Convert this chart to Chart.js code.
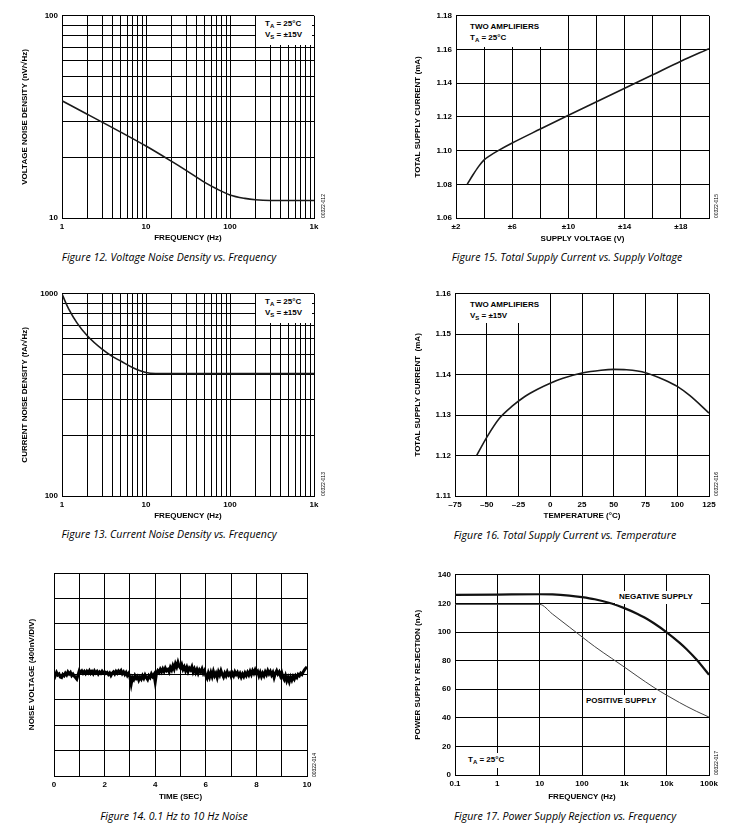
<!DOCTYPE html>
<html lang="en">
<head>
<meta charset="UTF-8" />
<title>Typical performance characteristics</title>
<style>
  * { margin: 0; padding: 0; }
  body {
    width: 741px; height: 828px; background: #fff; position: relative; overflow: hidden;
    font-family: "Liberation Sans", Arial, sans-serif; color: #000;
  }
  .wrap { position: absolute; }
  .note {
    position: absolute; background: #fff; font-weight: bold; font-size: 8px;
    line-height: 11px; white-space: nowrap; z-index: 2;
  }
  .note sub { font-size: 6px; vertical-align: -2px; line-height: 0; }
  .cap {
    position: absolute; font-family: "Open Sans", sans-serif; font-style: italic;
    font-size: 10.6px; white-space: nowrap; transform: translate(-50%, -50%);
  }
  .code {
    position: absolute; font-size: 5px; line-height: 6px; white-space: nowrap;
    transform: rotate(-90deg); transform-origin: left top;
  }
</style>
</head>
<body>
  <div class="wrap" id="w12"><canvas id="c12"></canvas></div>
  <div class="wrap" id="w15"><canvas id="c15"></canvas></div>
  <div class="wrap" id="w13"><canvas id="c13"></canvas></div>
  <div class="wrap" id="w16"><canvas id="c16"></canvas></div>
  <div class="wrap" id="w14"><canvas id="c14"></canvas></div>
  <div class="wrap" id="w17"><canvas id="c17"></canvas></div>

  <div class="note" style="left:256px;top:16px;width:47px;height:27px;padding:2px 0 0 9px;">T<sub>A</sub> = 25°C<br>V<sub>S</sub> = ±15V</div>
  <div class="note" style="left:256px;top:294px;width:47px;height:27px;padding:2px 0 0 9px;">T<sub>A</sub> = 25°C<br>V<sub>S</sub> = ±15V</div>
  <div class="note" style="left:457px;top:16px;width:75px;height:26px;padding:5px 0 0 13px;">TWO AMPLIFIERS<br>T<sub>A</sub> = 25°C</div>
  <div class="note" style="left:456px;top:294px;width:75px;height:24px;padding:5px 0 0 14px;">TWO AMPLIFIERS<br>V<sub>S</sub> = ±15V</div>
  <div class="note" style="left:463px;top:753px;width:43px;height:14px;padding:1px 0 0 5px;">T<sub>A</sub> = 25°C</div>
  <div class="note" style="left:615px;top:591px;width:82px;height:13px;padding:0 0 0 4px;">NEGATIVE SUPPLY</div>
  <div class="note" style="left:583px;top:695px;width:78px;height:13px;padding:0 0 0 3px;">POSITIVE SUPPLY</div>

  <div class="code" style="left:320px;top:218px;">00322-012</div>
  <div class="code" style="left:713px;top:218px;">00322-015</div>
  <div class="code" style="left:320px;top:496px;">00322-013</div>
  <div class="code" style="left:713px;top:496px;">00322-016</div>
  <div class="code" style="left:311px;top:777px;">00322-014</div>
  <div class="code" style="left:713px;top:775px;">00322-017</div>

  <div class="cap" style="left:169px;top:257px;">Figure 12. Voltage Noise Density vs. Frequency</div>
  <div class="cap" style="left:567px;top:257px;">Figure 15. Total Supply Current vs. Supply Voltage</div>
  <div class="cap" style="left:169px;top:534px;">Figure 13. Current Noise Density vs. Frequency</div>
  <div class="cap" style="left:565px;top:535px;">Figure 16. Total Supply Current vs. Temperature</div>
  <div class="cap" style="left:174px;top:816px;">Figure 14. 0.1 Hz to 10 Hz Noise</div>
  <div class="cap" style="left:565px;top:816px;">Figure 17. Power Supply Rejection vs. Frequency</div>

  <script src="https://cdn.jsdelivr.net/npm/chart.js@4.4.1/dist/chart.umd.min.js"></script>
  <script>
    // ---- data ----
    // Figure 12: voltage noise density (nV/rtHz) vs frequency (Hz)
    const fig12Freq = [1, 2, 3, 5, 10, 20, 30, 50, 70, 100, 150, 200, 300, 1000];
    const fig12Noise = [38, 32.6, 29.8, 26.6, 22.7, 19.1, 17.2, 15.0, 13.9, 13.0, 12.5, 12.3, 12.2, 12.2];
    const fig12XTicks = [1, 10, 100, 1000];
    const fig12XLabels = ["1", "10", "100", "1k"];
    const fig12YTicks = [10, 100];

    // Figure 13: current noise density (fA/rtHz) vs frequency (Hz)
    const fig13Freq = [1, 1.1, 1.2, 1.5, 2, 3, 4, 5, 7, 10, 13, 20, 100, 1000];
    const fig13Noise = [1000, 909, 842, 720, 620, 532, 489, 465, 431, 408, 403.5, 403, 403, 403];
    const fig13YTicks = [100, 1000];

    // Figure 15: supply current (mA) vs supply voltage (±V)
    const fig15Volts = [2.8, 3.2, 3.6, 4, 4.5, 5, 6, 8, 10, 12, 14, 16, 18, 20];
    const fig15Current = [1.080, 1.0855, 1.0905, 1.0945, 1.0975, 1.100, 1.1045, 1.1128, 1.121, 1.129, 1.137, 1.145, 1.153, 1.1605];
    const fig15XTicks = [2, 6, 10, 14, 18];

    // Figure 16: supply current (mA) vs temperature (°C)
    const fig16Temp = [-58, -50, -40, -30, -20, -10, 0, 10, 25, 40, 50, 60, 75, 90, 100, 110, 125];
    const fig16Current = [1.1200, 1.1245, 1.1292, 1.1322, 1.1346, 1.1364, 1.1379, 1.1391, 1.1404, 1.1411, 1.1413, 1.1412, 1.1405, 1.1387, 1.1371, 1.1348, 1.1305];

    // Figure 14: 0.1 Hz to 10 Hz noise, in divisions (400 nV/div), one sample every 0.05 s
    const fig14Step = 0.05;
    const fig14Noise = [
      0.10, -0.05, 0.08, -0.02, 0.02, -0.10, -0.12, 0.00, -0.05, 0.05, -0.02, 0.10, 0.02, 0.08, -0.04, 0.02, -0.06, -0.12, -0.18, -0.02,
      0.15, 0.08, 0.14, 0.05, 0.12, 0.04, 0.13, 0.06, 0.15, 0.05, 0.12, 0.03, 0.14, 0.06, 0.12, 0.02, 0.10, 0.05, 0.13, 0.06,
      0.10, 0.04, 0.08, 0.00, 0.06, -0.04, 0.05, 0.10, 0.02, 0.12, 0.05, 0.14, 0.08, 0.15, 0.03, 0.10, 0.00, 0.08, -0.04, 0.04,
      -0.10, -0.38, -0.12, -0.20, -0.05, -0.15, -0.08, -0.22, -0.10, -0.18, -0.05, -0.15, -0.02, -0.12, -0.20, -0.05, -0.12, 0.02, -0.08, 0.00,
      -0.30, 0.05, 0.15, 0.08, 0.20, 0.10, 0.22, 0.12, 0.25, 0.15, 0.20, 0.10, 0.28, 0.18, 0.35, 0.22, 0.42, 0.30, 0.48, 0.32,
      0.25, 0.38, 0.20, 0.30, 0.15, 0.28, 0.12, 0.25, 0.18, 0.30, 0.10, 0.22, 0.08, 0.20, 0.05, 0.18, 0.10, 0.22, 0.05, 0.15,
      -0.05, -0.15, 0.05, -0.10, 0.08, -0.08, 0.12, -0.05, 0.05, -0.12, 0.10, -0.02, 0.15, 0.00, -0.10, 0.05, -0.05, 0.10, -0.02, 0.05,
      -0.08, 0.05, -0.05, 0.10, 0.00, 0.08, -0.06, 0.04, -0.10, 0.02, -0.08, 0.06, -0.04, 0.08, -0.02, 0.12, 0.00, 0.15, 0.05, 0.18,
      0.05, 0.12, -0.05, 0.08, -0.08, 0.05, -0.05, 0.10, 0.00, 0.15, 0.03, 0.12, -0.02, 0.08, -0.12, 0.05, 0.15, 0.02, 0.10, -0.05,
      0.08, -0.10, -0.20, -0.05, -0.25, -0.12, -0.28, -0.10, -0.22, -0.08, -0.18, -0.05, -0.12, 0.00, -0.05, 0.05, 0.00, 0.10, 0.18, 0.25,
      0.30
    ];
    const fig14XTicks = [0, 2, 4, 6, 8, 10];

    // Figure 17: power supply rejection vs frequency (Hz)
    const fig17NegFreq = [0.1, 1, 10, 20, 50, 100, 200, 500, 1000, 2000, 3000, 5000, 10000, 20000, 30000, 50000, 100000];
    const fig17Negative = [126, 126.2, 126.4, 126.3, 125.5, 124.4, 122.9, 119.9, 116.7, 112.8, 110.1, 106.1, 99.8, 92.6, 87.8, 80.9, 70.1];
    const fig17PosFreq = [0.1, 1, 10, 20, 50, 100, 200, 500, 1000, 2000, 5000, 10000, 20000, 30000, 50000, 100000];
    const fig17Positive = [119.3, 119.3, 119.3, 112.6, 103.5, 96.6, 89.8, 81.6, 75.5, 69.2, 61.2, 55.8, 50.7, 47.9, 44.6, 40.5];
    const fig17XTicks = [0.1, 1, 10, 100, 1000, 10000, 100000];
    const fig17XLabels = ["0.1", "1", "10", "100", "1k", "10k", "100k"];

    // ---- shared styling ----
    Chart.defaults.animation = false;
    Chart.defaults.color = "#000";
    const axisFont = { family: "'Liberation Sans', Arial, sans-serif", size: 8, weight: "bold" };

    function pairs(xs, ys) {
      return ys.map((y, i) => ({ x: xs[i], y: y }));
    }

    // 1..9 per decade grid lines between two decade values
    function logGrid(decades) {
      const out = [];
      for (let d = 0; d < decades.length - 1; d++) {
        for (let k = 1; k <= 9; k++) out.push(k * decades[d]);
      }
      out.push(decades[decades.length - 1]);
      return out;
    }

    function place(id, L, T, R, B, yw, xh) {
      const tp = 8, rp = 14;
      const w = document.getElementById(id);
      w.style.left = (L - yw) + "px";
      w.style.top = (T - tp) + "px";
      w.style.width = (R - L + yw + rp) + "px";
      w.style.height = (B - T + tp + xh) + "px";
      return { top: tp, right: rp, left: 0, bottom: 0 };
    }

    function axis(extra, title, size, isX) {
      return Object.assign({
        grid: { color: "#000", lineWidth: 1, drawTicks: false },
        border: { color: "#000", width: 1 },
        title: { display: !!title, text: title, font: axisFont, color: "#000", padding: 0 },
        afterFit: s => { if (isX) s.height = size; else s.width = size; },
      }, extra, {
        ticks: Object.assign({ font: axisFont, color: "#000", padding: 4, autoSkip: false, maxRotation: 0 }, extra.ticks || {}),
      });
    }

    function lineSet(data, width, color) {
      return {
        data: data, borderColor: color || "#1a1a1a", borderWidth: width, pointRadius: 0,
        cubicInterpolationMode: "monotone", fill: false,
      };
    }

    function makeChart(canvasId, padding, datasets, xScale, yScale) {
      return new Chart(document.getElementById(canvasId), {
        type: "line",
        data: { datasets: datasets },
        options: {
          responsive: true,
          maintainAspectRatio: false,
          layout: { autoPadding: false, padding: padding },
          plugins: { legend: { display: false }, tooltip: { enabled: false } },
          scales: { x: xScale, y: yScale },
        },
      });
    }

    // Figure 12
    makeChart("c12", place("w12", 62, 15, 314, 218, 42, 25),
      [lineSet(pairs(fig12Freq, fig12Noise), 1.6)],
      axis({
        type: "logarithmic", min: 1, max: 1000,
        afterBuildTicks: s => { s.ticks = logGrid(fig12XTicks).map(v => ({ value: v })); },
        ticks: { callback: v => { const i = fig12XTicks.indexOf(v); return i < 0 ? "" : fig12XLabels[i]; } },
      }, "FREQUENCY (Hz)", 25, true),
      axis({
        type: "logarithmic", min: 10, max: 100,
        afterBuildTicks: s => { s.ticks = logGrid(fig12YTicks).map(v => ({ value: v })); },
        ticks: { callback: v => fig12YTicks.includes(v) ? String(v) : "" },
      }, "VOLTAGE NOISE DENSITY (nV/√Hz)", 42, false)
    );

    // Figure 13
    makeChart("c13", place("w13", 62, 293, 314, 496, 42, 25),
      [lineSet(pairs(fig13Freq, fig13Noise), 1.6)],
      axis({
        type: "logarithmic", min: 1, max: 1000,
        afterBuildTicks: s => { s.ticks = logGrid(fig12XTicks).map(v => ({ value: v })); },
        ticks: { callback: v => { const i = fig12XTicks.indexOf(v); return i < 0 ? "" : fig12XLabels[i]; } },
      }, "FREQUENCY (Hz)", 25, true),
      axis({
        type: "logarithmic", min: 100, max: 1000,
        afterBuildTicks: s => { s.ticks = logGrid(fig13YTicks).map(v => ({ value: v })); },
        ticks: { callback: v => fig13YTicks.includes(v) ? String(v) : "" },
      }, "CURRENT NOISE DENSITY (fA/√Hz)", 42, false)
    );

    // Figure 15
    makeChart("c15", place("w15", 456, 15, 709, 218, 43, 26),
      [lineSet(pairs(fig15Volts, fig15Current), 1.6)],
      axis({
        type: "linear", min: 2, max: 20,
        ticks: { stepSize: 2, callback: v => fig15XTicks.includes(v) ? "±" + v : "" },
      }, "SUPPLY VOLTAGE (V)", 26, true),
      axis({
        type: "linear", min: 1.06, max: 1.18,
        ticks: { stepSize: 0.02, callback: v => v.toFixed(2) },
      }, "TOTAL SUPPLY CURRENT (mA)", 43, false)
    );

    // Figure 16
    makeChart("c16", place("w16", 455, 293, 709, 496, 42, 25),
      [lineSet(pairs(fig16Temp, fig16Current), 1.6)],
      axis({
        type: "linear", min: -75, max: 125,
        ticks: { stepSize: 25, callback: v => (v < 0 ? "–" + Math.abs(v) : String(v)) },
      }, "TEMPERATURE (°C)", 25, true),
      axis({
        type: "linear", min: 1.11, max: 1.16,
        ticks: { stepSize: 0.01, callback: v => v.toFixed(2) },
      }, "TOTAL SUPPLY CURRENT  (mA)", 42, false)
    );

    // Figure 14
    makeChart("c14", place("w14", 54, 573, 307, 776, 27, 26),
      [Object.assign(lineSet(fig14Noise.map((v, i) => ({ x: i * fig14Step, y: v })), 3, "#000"), { cubicInterpolationMode: "default", tension: 0 })],
      axis({
        type: "linear", min: 0, max: 10,
        ticks: { stepSize: 1, callback: v => fig14XTicks.includes(v) ? String(v) : "" },
      }, "TIME (SEC)", 26, true),
      axis({
        type: "linear", min: -4, max: 4,
        ticks: { stepSize: 1, display: false },
      }, "NOISE VOLTAGE (400nV/DIV)", 27, false)
    );

    // Figure 17
    makeChart("c17", place("w17", 455, 574, 709, 775, 42, 27),
      [
        lineSet(pairs(fig17NegFreq, fig17Negative), 2.2, "#111"),
        lineSet(pairs(fig17PosFreq, fig17Positive), 1, "#444"),
      ],
      axis({
        type: "logarithmic", min: 0.1, max: 100000,
        afterBuildTicks: s => { s.ticks = fig17XTicks.map(v => ({ value: v })); },
        ticks: { callback: v => { const i = fig17XTicks.indexOf(v); return i < 0 ? "" : fig17XLabels[i]; } },
      }, "FREQUENCY (Hz)", 27, true),
      axis({
        type: "linear", min: 0, max: 140,
        ticks: { stepSize: 20 },
      }, "POWER SUPPLY REJECTION (nA)", 42, false)
    );
  </script>
</body>
</html>
